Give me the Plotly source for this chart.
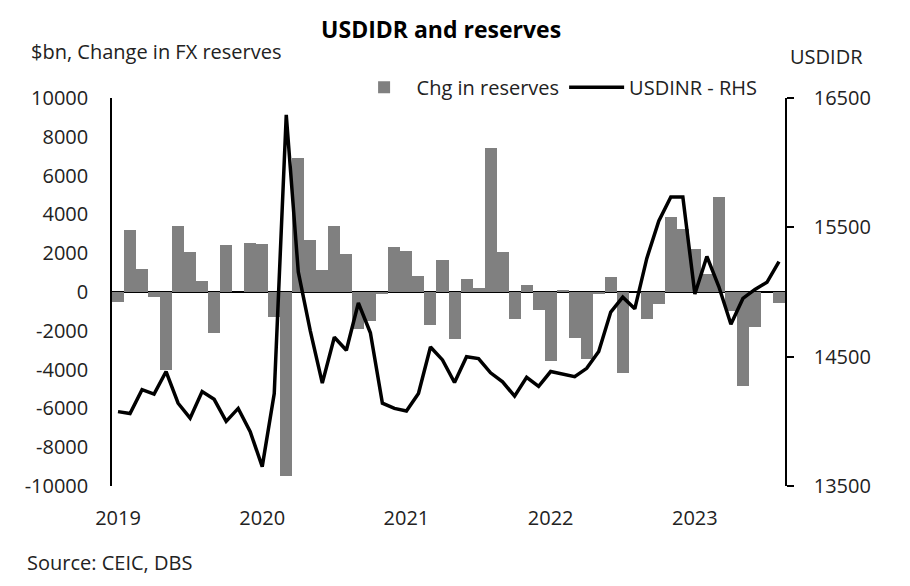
import plotly.graph_objects as go

# === DATA ===
YEARS = [2019, 2020, 2021, 2022, 2023]
MONTHS = [f"{y}-{m:02d}" for y in YEARS for m in range(1, 13)][:56]  # Jan 2019 .. Aug 2023

CHG_RESERVES = [
    -500, 3200, 1200, -250, -4000, 3400, 2050, 550, -2100, 2400, 0, 2550,      # 2019
    2500, -1300, -9500, 6900, 2700, 1150, 3400, 1950, -1900, -1500, -100, 2300,  # 2020
    2100, 800, -1700, 1650, -2400, 650, 220, 7400, 2050, -1400, 350, -950,       # 2021
    -3550, 100, -2350, -3450, -100, 780, -4200, 0, -1400, -600, 3850, 3250,      # 2022
    2200, 950, 4900, -1000, -4850, -1800, 0, -550,                               # 2023
]

USDIDR = [
    14075, 14060, 14245, 14210, 14385, 14140, 14025, 14230, 14170, 14000, 14100, 13920,  # 2019
    13650, 14215, 16370, 15155, 14700, 14295, 14650, 14550, 14915, 14685, 14140, 14100,  # 2020
    14080, 14215, 14575, 14475, 14300, 14500, 14485, 14375, 14305, 14195, 14340, 14270,  # 2021
    14385, 14365, 14345, 14410, 14540, 14845, 14960, 14870, 15260, 15550, 15735, 15735,  # 2022
    14985, 15275, 15040, 14750, 14950, 15020, 15075, 15235,                              # 2023
]

LEFT_TICKS = [10000, 8000, 6000, 4000, 2000, 0, -2000, -4000, -6000, -8000, -10000]
RIGHT_TICKS = [13500, 14500, 15500, 16500]
YEAR_TICKS = [f"{y}-01" for y in YEARS]

FONT = "Open Sans"
TEXT = "#222222"
BAR_GREY = "#808080"

fig = go.Figure()

fig.add_trace(go.Bar(
    x=MONTHS, y=CHG_RESERVES, name="Chg in reserves",
    marker=dict(color=BAR_GREY, line=dict(width=0)),
    yaxis="y",
))

fig.add_trace(go.Scatter(
    x=MONTHS, y=USDIDR, name="USDINR - RHS", mode="lines",
    line=dict(color="black", width=3.5),
    yaxis="y2",
))

# page body has an 8px margin, so the figure is 8px smaller than the window
fig.update_layout(
    width=902, height=578,
    margin=dict(l=104, r=125, t=90, b=100),
    plot_bgcolor="white", paper_bgcolor="white",
    font=dict(family=FONT, size=20, color=TEXT),
    bargap=0,
    showlegend=True,
    title=dict(text="<b>USDIDR and reserves</b>", x=0.489, xanchor="center", xref="paper",
               y=0.962, yanchor="middle", yref="container", font=dict(size=23, color="black")),
    legend=dict(orientation="h", x=0.356, xanchor="left", y=1.028, yanchor="middle",
                bgcolor="rgba(0,0,0,0)", itemwidth=55, traceorder="normal",
                font=dict(size=20, color=TEXT)),
    xaxis=dict(
        type="category", categoryorder="array", categoryarray=MONTHS,
        tickvals=YEAR_TICKS, ticktext=[str(y) for y in YEARS],
        showline=False, showgrid=False, zeroline=False, ticks="",
        ticklabelstandoff=18,
    ),
    yaxis=dict(
        range=[-10000, 10000], tickvals=LEFT_TICKS, ticktext=[str(v) for v in LEFT_TICKS],
        showgrid=False, zeroline=True, zerolinecolor="black", zerolinewidth=1.5,
        showline=True, linecolor="black", linewidth=1.5, ticks="",
        ticklabelstandoff=18,
    ),
    yaxis2=dict(
        range=[13500, 16500], tickvals=RIGHT_TICKS, ticktext=[str(v) for v in RIGHT_TICKS],
        overlaying="y", side="right", showgrid=False, zeroline=False,
        showline=True, linecolor="black", linewidth=1.5,
        ticks="outside", ticklen=7, tickwidth=1.5, tickcolor="black",
        ticklabelstandoff=16,
    ),
    annotations=[
        dict(text="$bn, Change in FX reserves", xref="paper", yref="paper",
             x=-0.123, y=1.119, xanchor="left", yanchor="middle", showarrow=False,
             font=dict(size=20, color=TEXT)),
        dict(text="USDIDR", xref="paper", yref="paper",
             x=1.005, y=1.108, xanchor="left", yanchor="middle", showarrow=False,
             font=dict(size=20, color=TEXT)),
        dict(text="Source: CEIC, DBS", xref="paper", yref="paper",
             x=-0.130, y=-0.196, xanchor="left", yanchor="middle", showarrow=False,
             font=dict(size=20, color=TEXT)),
    ],
)

fig.write_html("out.html")
